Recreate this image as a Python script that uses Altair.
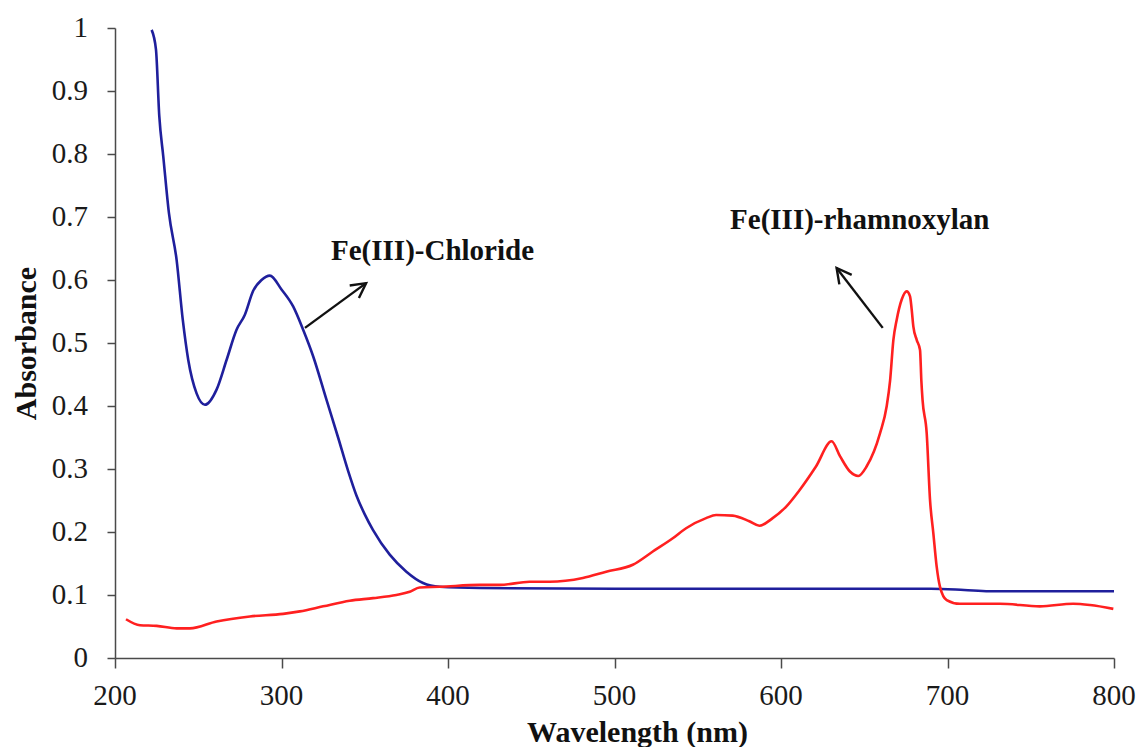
import math
import altair as alt
import pandas as pd

# ---------------- data ----------------
chloride_nm = [222, 224.6, 226.6, 229, 232.4, 237, 240.7, 244, 249, 254, 261, 267,
               273, 278, 283, 288, 293, 300, 307, 313, 319, 327, 334, 340, 345, 350,
               355, 365, 375, 385, 395, 419, 500, 600, 690, 710, 725, 800]
chloride_abs = [0.997, 0.966, 0.86, 0.796, 0.706, 0.632, 0.537, 0.473, 0.42, 0.402,
                0.426, 0.473, 0.521, 0.545, 0.583, 0.600, 0.607, 0.585, 0.558, 0.521,
                0.479, 0.41, 0.35, 0.297, 0.258, 0.228, 0.203, 0.164, 0.137, 0.119,
                0.113, 0.111, 0.110, 0.110, 0.110, 0.108, 0.106, 0.106]

rham_nm = [206.6, 215, 225, 237, 245, 261, 281, 301, 311, 325, 341, 355, 369, 377,
           383, 395, 419, 431, 449, 461, 481, 495, 511, 523, 535, 543, 555, 561, 571,
           581, 587, 595, 603, 611, 621, 630.4, 635.5, 641.4, 646.4, 651.4, 659.5,
           663.5, 665.5, 667.5, 669.5, 672.5, 675.5, 677.5, 678.5, 679.5, 681.5,
           683.5, 684.3, 685, 687.5, 689.5, 691.5, 693.5, 695.5, 699.5, 707.5, 731.5,
           755.5, 775.5, 785.6, 799.6]
rham_abs = [0.0615, 0.052, 0.051, 0.047, 0.047, 0.058, 0.066, 0.070, 0.074, 0.082,
            0.091, 0.095, 0.100, 0.105, 0.112, 0.113, 0.116, 0.116, 0.121, 0.121,
            0.127, 0.137, 0.148, 0.169, 0.190, 0.206, 0.222, 0.227, 0.226, 0.217,
            0.210, 0.222, 0.240, 0.266, 0.304, 0.344, 0.320, 0.296, 0.289, 0.304,
            0.357, 0.400, 0.440, 0.505, 0.537, 0.569, 0.582, 0.574, 0.553, 0.526,
            0.505, 0.489, 0.440, 0.410, 0.357, 0.251, 0.198, 0.145, 0.113, 0.092,
            0.086, 0.086, 0.082, 0.086, 0.084, 0.078]

x_ticks = [200, 300, 400, 500, 600, 700, 800]
y_ticks = [0, 0.1, 0.2, 0.3, 0.4, 0.5, 0.6, 0.7, 0.8, 0.9, 1]

ann_label = ["Fe(III)-Chloride", "Fe(III)-rhamnoxylan"]
ann_x = [390.7, 647.3]
ann_y = [0.631, 0.681]

arrow_x0 = [314.1, 661.1]
arrow_y0 = [0.524, 0.524]
arrow_x1 = [350.8, 633.4]
arrow_y1 = [0.595, 0.619]

# ---------------- layout ----------------
W, H = 999, 630
X_DOM, Y_DOM = [200, 800], [0, 1]
FONT = "Liberation Serif"

px_x = W / (X_DOM[1] - X_DOM[0])
px_y = H / (Y_DOM[1] - Y_DOM[0])
angles = []
for a, b, c, d in zip(arrow_x0, arrow_y0, arrow_x1, arrow_y1):
    dx = (c - a) * px_x
    dy = -(d - b) * px_y
    ang = math.degrees(math.atan2(dx, -dy)) % 360
    angles.append(ang)

lines = pd.DataFrame({
    "nm": chloride_nm + rham_nm,
    "abs": chloride_abs + rham_abs,
    "series": ["Fe(III)-Chloride"] * len(chloride_nm) + ["Fe(III)-rhamnoxylan"] * len(rham_nm),
})
ann = pd.DataFrame({"label": ann_label, "x": ann_x, "y": ann_y})
arrows = pd.DataFrame({"x0": arrow_x0, "y0": arrow_y0, "x1": arrow_x1,
                       "y1": arrow_y1, "ang": angles})
xlab = pd.DataFrame({"v": x_ticks, "t": [f"{v:g}" for v in x_ticks], "y0": [Y_DOM[0]] * len(x_ticks)})
ylab = pd.DataFrame({"v": y_ticks, "t": [f"{v:g}" for v in y_ticks], "x0": [X_DOM[0]] * len(y_ticks)})

xs = alt.Scale(domain=X_DOM, nice=False, zero=False)
ys = alt.Scale(domain=Y_DOM, nice=False)

x_axis = alt.Axis(values=x_ticks, tickSize=10, grid=False, labels=False,
                  title="Wavelength (nm)",
                  titleBaseline="alphabetic", titleX=522, titleY=83)
y_axis = alt.Axis(values=y_ticks, tickSize=8, grid=False, labels=False,
                  title="Absorbance",
                  titleBaseline="alphabetic", titleAngle=-90, titleX=-80,
                  titleY=H / 2, titleAlign="center")

line_layer = alt.Chart(lines).mark_line(strokeWidth=2.6, interpolate="monotone").encode(
    x=alt.X("nm:Q", scale=xs, axis=x_axis),
    y=alt.Y("abs:Q", scale=ys, axis=y_axis),
    color=alt.Color("series:N", scale=alt.Scale(
        domain=["Fe(III)-Chloride", "Fe(III)-rhamnoxylan"],
        range=["#1f1f9c", "#ff2020"]), legend=None),
    order=alt.Order("series:N"),
)

xlab_layer = alt.Chart(xlab).mark_text(
    font=FONT, fontSize=29, color="#1a1a1a", align="center",
    baseline="alphabetic", dy=47
).encode(x=alt.X("v:Q", scale=xs), y=alt.Y("y0:Q", scale=ys), text="t:N")

ylab_layer = alt.Chart(ylab).mark_text(
    font=FONT, fontSize=29, color="#1a1a1a", align="right",
    baseline="middle", dx=-27
).encode(x=alt.X("x0:Q", scale=xs), y=alt.Y("v:Q", scale=ys), text="t:N")

text_layer = alt.Chart(ann).mark_text(
    font=FONT, fontSize=29, fontWeight="bold", color="#111111",
    align="center", baseline="alphabetic"
).encode(x=alt.X("x:Q", scale=xs), y=alt.Y("y:Q", scale=ys), text="label:N")

shaft_layer = alt.Chart(arrows).mark_rule(color="#111111", strokeWidth=2.4).encode(
    x=alt.X("x0:Q", scale=xs), y=alt.Y("y0:Q", scale=ys),
    x2="x1:Q", y2="y1:Q")

head_layer = alt.Chart(arrows).mark_point(
    shape="M-0.47,0.88L0,0L0.47,0.88", filled=False, stroke="#111111",
    strokeWidth=2.4, size=1100, opacity=1
).encode(x=alt.X("x1:Q", scale=xs), y=alt.Y("y1:Q", scale=ys),
         angle=alt.Angle("ang:Q", scale=None))

chart = alt.layer(line_layer, xlab_layer, ylab_layer, shaft_layer, head_layer,
                  text_layer).properties(
    width=W, height=H,
    autosize=alt.AutoSizeParams(type="none"),
    padding={"left": 115, "top": 28, "right": 23, "bottom": 89},
    background="white",
).configure_view(stroke=None, clip=False).configure_axis(
    titleFont=FONT, titleFontSize=30, titleFontWeight="bold", titleColor="#111111",
    domainColor="#4a4a4a", tickColor="#4a4a4a", domainWidth=1.5, tickWidth=1.5,
)

chart.save("out.html", embed_options={"renderer": "svg", "actions": False})
